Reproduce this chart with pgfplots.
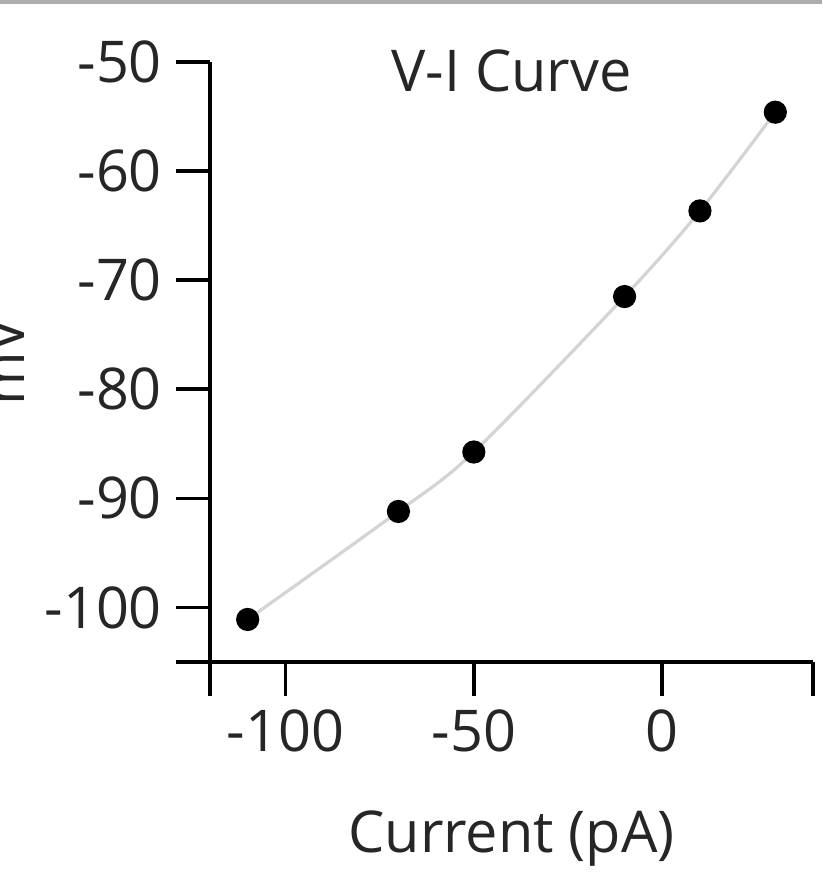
\documentclass[border=0pt]{standalone}
\usepackage{fontspec}
\setmainfont{Open Sans}
\usepackage{pgfplots}
\pgfplotsset{compat=1.18}
\begin{document}
\begin{tikzpicture}
\begin{axis}[
  at={(52.5pt,-165.5pt)}, anchor=south west,
  scale only axis, width=150.75pt, height=150pt,
  xmin=-120, xmax=40, ymin=-105, ymax=-50,
  axis x line=bottom, axis y line=left,
  axis line style={-, line width=0.9pt, black},
  tick align=outside, major tick length=8.5pt,
  every tick/.style={line width=0.9pt, black},
  xtick={-120,-100,-50,0,40},
  xticklabels={{},{-100},{-50},{0},{}},
  ytick={-105,-100,-90,-80,-70,-60,-50},
  yticklabels={{},{-100},{-90},{-80},{-70},{-60},{-50}},
  font=\fontsize{14.4pt}{17pt}\selectfont,
  tick label style={font=\fontsize{14.4pt}{17pt}\selectfont, text=black!85},
  /pgf/number format/assume math mode=true,
  title={V-I Curve},
  title style={at={(axis description cs:0.5,0.91)}, anchor=base, text=black!85, inner sep=0pt},
  xlabel={Current (pA)},
  xlabel style={at={(axis description cs:0.5,-0.3183)}, anchor=base, text=black!85, inner sep=0pt},
  ylabel={mV},
  ylabel style={at={(axis description cs:-0.3068,0.5)}, rotate=0, anchor=base, text=black!85, inner sep=0pt},
  clip=false,
]
\addplot[smooth, color=black!17, line width=0.8pt, no markers] coordinates {
  (-110,-101.1) (-70,-91.2) (-50,-85.75) (-10,-71.5) (10,-63.65) (30,-54.6)
};
\addplot[only marks, mark=*, mark size=2.7pt, black] coordinates {
  (-110,-101.1) (-70,-91.2) (-50,-85.75) (-10,-71.5) (10,-63.65) (30,-54.6)
};
\end{axis}
\fill[black!32] (0pt,0pt) rectangle (205.5pt,-0.9pt);
\pgfresetboundingbox
\path[use as bounding box] (0pt,0pt) rectangle (205.5pt,-223.75pt);
\end{tikzpicture}
\end{document}
